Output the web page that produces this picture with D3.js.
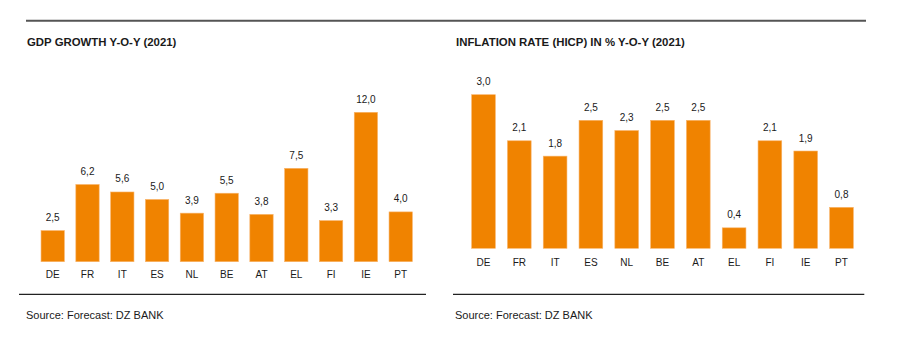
<!DOCTYPE html>
<html>
<head>
<meta charset="utf-8">
<script src="https://cdn.jsdelivr.net/npm/d3@7"></script>
<style>
  body { margin: 0; background: #fff; }
  svg { display: block; font-family: "Liberation Sans", Arial, sans-serif; }
</style>
</head>
<body>
<div id="chart"></div>
<script>
// country codes shared by both panels
var countries = ["DE", "FR", "IT", "ES", "NL", "BE", "AT", "EL", "FI", "IE", "PT"];
// GDP growth y-o-y 2021, %
var gdpGrowth = [2.5, 6.2, 5.6, 5.0, 3.9, 5.5, 3.8, 7.5, 3.3, 12.0, 4.0];
// HICP inflation y-o-y 2021, %
var inflation = [3.0, 2.1, 1.8, 2.5, 2.3, 2.5, 2.5, 0.4, 2.1, 1.9, 0.8];

var titles = ["GDP GROWTH Y-O-Y (2021)", "INFLATION RATE (HICP) IN % Y-O-Y (2021)"];
var sourceText = "Source: Forecast: DZ BANK";

var orange = "#f08300";
var ink = "#1a1a1a";
var fmt = function(v) { return d3.format(".1f")(v).replace(".", ","); };

var svg = d3.select("#chart").append("svg")
    .attr("width", 900)
    .attr("height", 338);

// grey rule across the top of both panels
svg.append("line")
    .attr("x1", 26).attr("x2", 866)
    .attr("y1", 20.7).attr("y2", 20.7)
    .attr("stroke", "#555").attr("stroke-width", 2);

function panel(cfg) {
    var g = svg.append("g");

    var x = d3.scaleBand()
        .domain(countries)
        .range(cfg.xRange)
        .paddingInner(cfg.pad)
        .paddingOuter(cfg.pad / 2);

    var y = d3.scaleLinear()
        .domain(cfg.yDomain)
        .range(cfg.yRange);

    g.append("text")
        .attr("x", cfg.titleX).attr("y", 46)
        .attr("font-size", 11.4).attr("font-weight", "bold")
        .attr("fill", ink)
        .text(cfg.title);

    g.selectAll("rect.bar")
        .data(cfg.values)
        .join("rect")
        .attr("class", "bar")
        .attr("x", function(d, i) { return x(countries[i]); })
        .attr("width", x.bandwidth())
        .attr("y", function(d) { return y(d); })
        .attr("height", function(d) { return y(0) - y(d); })
        .attr("fill", orange)
        .attr("stroke", "#f8b46a")
        .attr("stroke-width", 0.6);

    g.selectAll("text.val")
        .data(cfg.values)
        .join("text")
        .attr("class", "val")
        .attr("x", function(d, i) { return x(countries[i]) + x.bandwidth() / 2; })
        .attr("y", function(d) { return y(d) - 9.5; })
        .attr("text-anchor", "middle")
        .attr("font-size", 10)
        .attr("fill", ink)
        .text(fmt);

    // category axis, no line or ticks
    var axis = g.append("g")
        .attr("transform", "translate(0," + y(0) + ")")
        .call(d3.axisBottom(x).tickSize(0).tickPadding(cfg.labelPad));
    axis.select(".domain").remove();
    axis.selectAll("text")
        .attr("font-size", 10)
        .attr("font-family", "Liberation Sans, Arial, sans-serif")
        .attr("fill", ink);

    g.append("line")
        .attr("x1", cfg.ruleX[0]).attr("x2", cfg.ruleX[1])
        .attr("y1", 294.3).attr("y2", 294.3)
        .attr("stroke", "#222").attr("stroke-width", 1.2);

    g.append("text")
        .attr("x", cfg.titleX - 1).attr("y", 319)
        .attr("font-size", 11)
        .attr("fill", ink)
        .text(sourceText);
}

panel({
    title: titles[0],
    values: gdpGrowth,
    titleX: 27,
    xRange: [35.3, 418.1],
    pad: 0.33,
    yDomain: [0, 12],
    yRange: [261.7, 112.3],
    labelPad: 9.5,
    ruleX: [19, 426]
});

panel({
    title: titles[1],
    values: inflation,
    titleX: 456,
    xRange: [465.6, 859.4],
    pad: 0.338,
    yDomain: [0, 3],
    yRange: [248.3, 94.7],
    labelPad: 10.6,
    ruleX: [453, 864.3]
});
</script>
</body>
</html>
